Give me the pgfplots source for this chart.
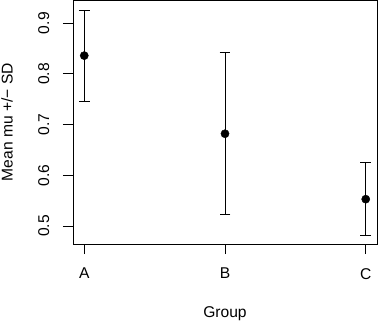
\documentclass[border=0pt]{standalone}
\usepackage{fontspec}
\setmainfont{Liberation Sans}
\usepackage{pgfplots}
\pgfplotsset{compat=1.18}
\begin{document}
\begin{tikzpicture}
\useasboundingbox (-73bp,-77bp) rectangle (305bp,244bp);
\begin{axis}[
  at={(0,0)}, anchor=south west,
  scale only axis,
  width=304bp, height=243.5bp,
  xmin=0.92, xmax=3.08,
  ymin=0.4646, ymax=0.9447,
  xtick={1,2,3}, xticklabels={A,B,C},
  ytick={0.5,0.6,0.7,0.8,0.9},
  yticklabels={0.5,0.6,0.7,0.8,0.9},
  tick align=outside,
  xtick pos=bottom, ytick pos=left,
  major tick length=10bp,
  axis line style={line width=0.8bp, black},
  every tick/.style={line width=0.8bp, black},
  tick label style={font=\fontsize{15.6bp}{18bp}\selectfont, inner sep=0pt},
  yticklabel style={rotate=90, anchor=south},
  xticklabel style={anchor=north},
  xticklabel shift=14bp,
  yticklabel shift=13.4bp,
  label style={font=\fontsize{15.6bp}{18bp}\selectfont, inner sep=0pt},
  xlabel={Group},
  ylabel={Mean mu +/− SD},
  xlabel style={at={([yshift=-73.5bp]axis description cs:0.5,0)}, anchor=base},
  ylabel style={at={([xshift=-60.3bp]axis description cs:0,0.5)}, rotate=0, anchor=base},
  clip=false,
]
\addplot[only marks, mark=*, mark size=4.1bp, black,
  error bars/.cd, y dir=both, y explicit,
  error mark=|, error mark options={mark size=5.3bp, line width=0.8bp, black},
  error bar style={line width=0.8bp, black}]
  coordinates {
    (1,0.836) +- (0,0.0893)
    (2,0.682) +- (0,0.160)
    (3,0.553) +- (0,0.072)
  };
\end{axis}
\end{tikzpicture}
\end{document}
